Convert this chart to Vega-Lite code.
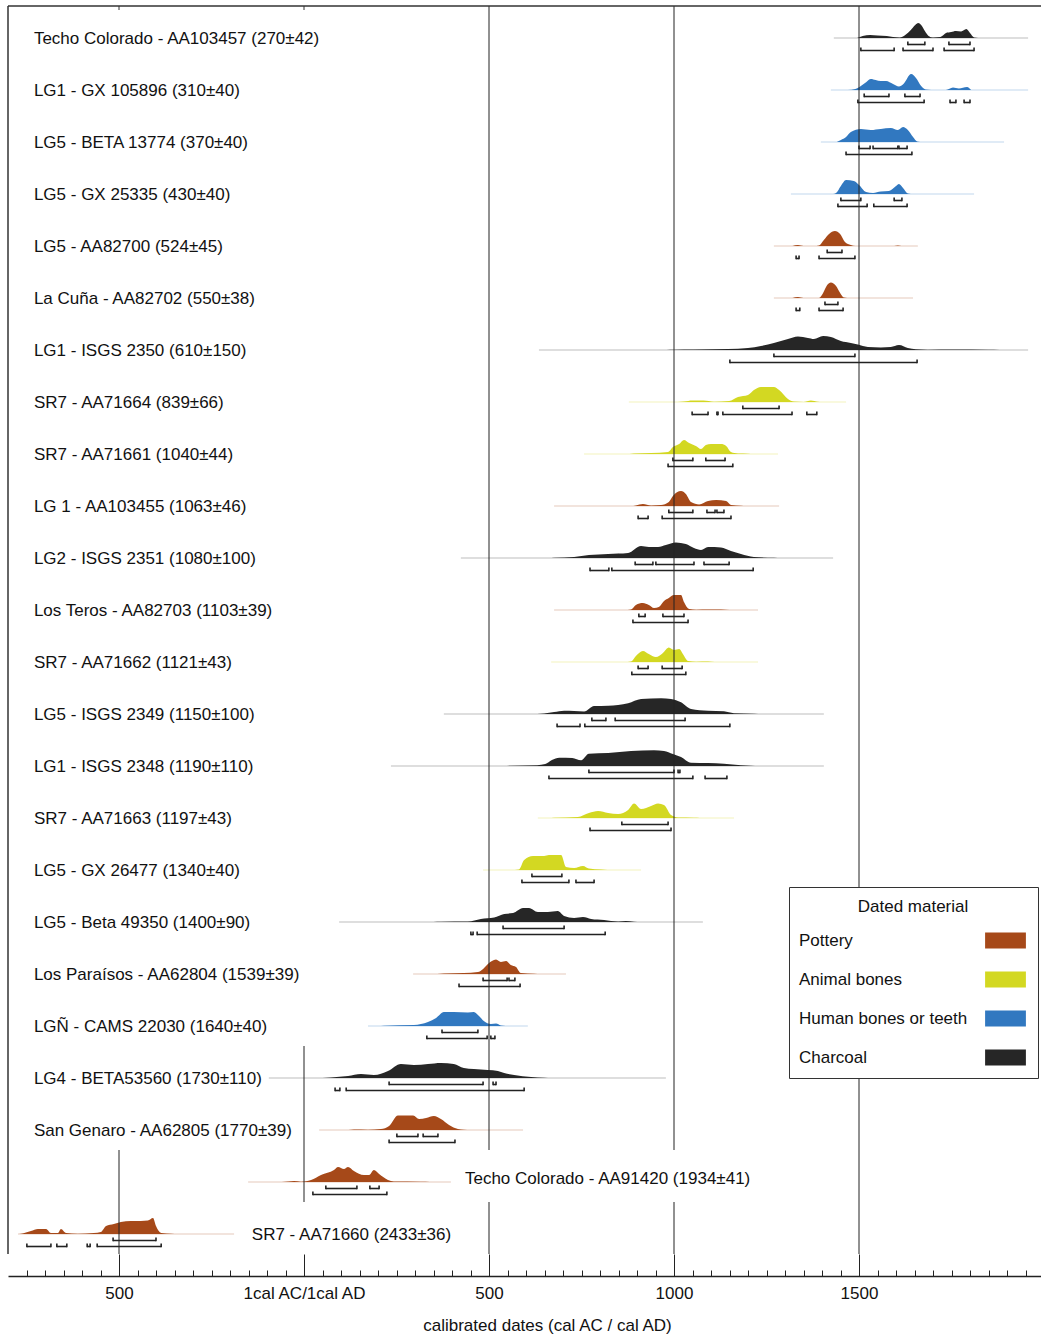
{
  "$schema": "https://vega.github.io/schema/vega-lite/v6.json",
  "padding": {"left": 7, "top": 5, "right": 0, "bottom": 5},
  "datasets": {
    "samples": [
      {"id": 0, "label": "Techo Colorado - AA103457 (270±42)", "m": "Charcoal", "lo": 1432, "hi": 1957},
      {"id": 1, "label": "LG1 - GX 105896 (310±40)", "m": "Human bones or teeth", "lo": 1424, "hi": 1957},
      {"id": 2, "label": "LG5 - BETA 13774 (370±40)", "m": "Human bones or teeth", "lo": 1397, "hi": 1892},
      {"id": 3, "label": "LG5 - GX 25335 (430±40)", "m": "Human bones or teeth", "lo": 1316, "hi": 1811},
      {"id": 4, "label": "LG5 - AA82700 (524±45)", "m": "Pottery", "lo": 1270, "hi": 1659},
      {"id": 5, "label": "La Cuña - AA82702 (550±38)", "m": "Pottery", "lo": 1270, "hi": 1646},
      {"id": 6, "label": "LG1 - ISGS 2350 (610±150)", "m": "Charcoal", "lo": 635, "hi": 1957},
      {"id": 7, "label": "SR7 - AA71664 (839±66)", "m": "Animal bones", "lo": 878, "hi": 1465},
      {"id": 8, "label": "SR7 - AA71661 (1040±44)", "m": "Animal bones", "lo": 757, "hi": 1281},
      {"id": 9, "label": "LG 1 - AA103455 (1063±46)", "m": "Pottery", "lo": 676, "hi": 1284},
      {"id": 10, "label": "LG2 - ISGS 2351 (1080±100)", "m": "Charcoal", "lo": 424, "hi": 1430},
      {"id": 11, "label": "Los Teros - AA82703 (1103±39)", "m": "Pottery", "lo": 676, "hi": 1227},
      {"id": 12, "label": "SR7 - AA71662 (1121±43)", "m": "Animal bones", "lo": 668, "hi": 1227},
      {"id": 13, "label": "LG5 - ISGS 2349 (1150±100)", "m": "Charcoal", "lo": 378, "hi": 1405},
      {"id": 14, "label": "LG1 - ISGS 2348 (1190±110)", "m": "Charcoal", "lo": 235, "hi": 1405},
      {"id": 15, "label": "SR7 - AA71663 (1197±43)", "m": "Animal bones", "lo": 632, "hi": 1162},
      {"id": 16, "label": "LG5 - GX 26477 (1340±40)", "m": "Animal bones", "lo": 484, "hi": 911},
      {"id": 17, "label": "LG5 - Beta 49350 (1400±90)", "m": "Charcoal", "lo": 95, "hi": 1078},
      {"id": 18, "label": "Los Paraísos - AA62804 (1539±39)", "m": "Pottery", "lo": 295, "hi": 708},
      {"id": 19, "label": "LGÑ - CAMS 22030 (1640±40)", "m": "Human bones or teeth", "lo": 173, "hi": 605},
      {"id": 20, "label": "LG4 - BETA53560 (1730±110)", "m": "Charcoal", "lo": -95, "hi": 978},
      {"id": 21, "label": "San Genaro - AA62805 (1770±39)", "m": "Pottery", "lo": 41, "hi": 592},
      {"id": 22, "label": "Techo Colorado - AA91420 (1934±41)", "m": "Pottery", "lo": -151, "hi": 397},
      {"id": 23, "label": "SR7 - AA71660 (2433±36)", "m": "Pottery", "lo": -773, "hi": -189}
    ],
    "all": [
      {"k": "s", "id": 0}, {"k": "s", "id": 1}, {"k": "s", "id": 2}, {"k": "s", "id": 3},
      {"k": "s", "id": 4}, {"k": "s", "id": 5}, {"k": "s", "id": 6}, {"k": "s", "id": 7},
      {"k": "s", "id": 8}, {"k": "s", "id": 9}, {"k": "s", "id": 10}, {"k": "s", "id": 11},
      {"k": "s", "id": 12}, {"k": "s", "id": 13}, {"k": "s", "id": 14}, {"k": "s", "id": 15},
      {"k": "s", "id": 16}, {"k": "s", "id": 17}, {"k": "s", "id": 18}, {"k": "s", "id": 19},
      {"k": "s", "id": 20}, {"k": "s", "id": 21}, {"k": "s", "id": 22}, {"k": "s", "id": 23},

      {"k": "d", "id": 0, "yr": 1495, "p": 0}, {"k": "d", "id": 0, "yr": 1510, "p": 2},
      {"k": "d", "id": 0, "yr": 1530, "p": 3}, {"k": "d", "id": 0, "yr": 1550, "p": 2.5},
      {"k": "d", "id": 0, "yr": 1575, "p": 2}, {"k": "d", "id": 0, "yr": 1592, "p": 1},
      {"k": "d", "id": 0, "yr": 1610, "p": 0.5}, {"k": "d", "id": 0, "yr": 1625, "p": 3},
      {"k": "d", "id": 0, "yr": 1640, "p": 8}, {"k": "d", "id": 0, "yr": 1652, "p": 13},
      {"k": "d", "id": 0, "yr": 1660, "p": 15}, {"k": "d", "id": 0, "yr": 1668, "p": 13},
      {"k": "d", "id": 0, "yr": 1678, "p": 7}, {"k": "d", "id": 0, "yr": 1688, "p": 2},
      {"k": "d", "id": 0, "yr": 1700, "p": 0.5}, {"k": "d", "id": 0, "yr": 1720, "p": 1},
      {"k": "d", "id": 0, "yr": 1735, "p": 5}, {"k": "d", "id": 0, "yr": 1749, "p": 6},
      {"k": "d", "id": 0, "yr": 1762, "p": 7}, {"k": "d", "id": 0, "yr": 1776, "p": 6.5},
      {"k": "d", "id": 0, "yr": 1790, "p": 9}, {"k": "d", "id": 0, "yr": 1800, "p": 5},
      {"k": "d", "id": 0, "yr": 1811, "p": 0.5}, {"k": "d", "id": 0, "yr": 1822, "p": 0},

      {"k": "d", "id": 1, "yr": 1470, "p": 0}, {"k": "d", "id": 1, "yr": 1490, "p": 1},
      {"k": "d", "id": 1, "yr": 1505, "p": 4}, {"k": "d", "id": 1, "yr": 1520, "p": 8},
      {"k": "d", "id": 1, "yr": 1532, "p": 11}, {"k": "d", "id": 1, "yr": 1545, "p": 10},
      {"k": "d", "id": 1, "yr": 1559, "p": 9}, {"k": "d", "id": 1, "yr": 1573, "p": 9},
      {"k": "d", "id": 1, "yr": 1592, "p": 6}, {"k": "d", "id": 1, "yr": 1608, "p": 3.5},
      {"k": "d", "id": 1, "yr": 1620, "p": 6}, {"k": "d", "id": 1, "yr": 1641, "p": 16},
      {"k": "d", "id": 1, "yr": 1654, "p": 12}, {"k": "d", "id": 1, "yr": 1668, "p": 4},
      {"k": "d", "id": 1, "yr": 1680, "p": 0.5}, {"k": "d", "id": 1, "yr": 1695, "p": 0},
      {"k": "d", "id": 1, "yr": 1735, "p": 0}, {"k": "d", "id": 1, "yr": 1754, "p": 2.5},
      {"k": "d", "id": 1, "yr": 1770, "p": 1.5}, {"k": "d", "id": 1, "yr": 1792, "p": 3},
      {"k": "d", "id": 1, "yr": 1803, "p": 0},

      {"k": "d", "id": 2, "yr": 1440, "p": 0}, {"k": "d", "id": 2, "yr": 1451, "p": 2},
      {"k": "d", "id": 2, "yr": 1465, "p": 5}, {"k": "d", "id": 2, "yr": 1478, "p": 10},
      {"k": "d", "id": 2, "yr": 1505, "p": 13}, {"k": "d", "id": 2, "yr": 1532, "p": 12},
      {"k": "d", "id": 2, "yr": 1559, "p": 13}, {"k": "d", "id": 2, "yr": 1586, "p": 14},
      {"k": "d", "id": 2, "yr": 1605, "p": 12}, {"k": "d", "id": 2, "yr": 1619, "p": 15},
      {"k": "d", "id": 2, "yr": 1632, "p": 12}, {"k": "d", "id": 2, "yr": 1646, "p": 5},
      {"k": "d", "id": 2, "yr": 1657, "p": 0.5}, {"k": "d", "id": 2, "yr": 1665, "p": 0},

      {"k": "d", "id": 3, "yr": 1430, "p": 0}, {"k": "d", "id": 3, "yr": 1438, "p": 1},
      {"k": "d", "id": 3, "yr": 1451, "p": 8}, {"k": "d", "id": 3, "yr": 1465, "p": 14},
      {"k": "d", "id": 3, "yr": 1486, "p": 13}, {"k": "d", "id": 3, "yr": 1500, "p": 9},
      {"k": "d", "id": 3, "yr": 1519, "p": 2}, {"k": "d", "id": 3, "yr": 1538, "p": 1},
      {"k": "d", "id": 3, "yr": 1559, "p": 2.5}, {"k": "d", "id": 3, "yr": 1581, "p": 3},
      {"k": "d", "id": 3, "yr": 1600, "p": 8}, {"k": "d", "id": 3, "yr": 1608, "p": 10},
      {"k": "d", "id": 3, "yr": 1619, "p": 6}, {"k": "d", "id": 3, "yr": 1632, "p": 0.5},
      {"k": "d", "id": 3, "yr": 1640, "p": 0},

      {"k": "d", "id": 4, "yr": 1320, "p": 0}, {"k": "d", "id": 4, "yr": 1335, "p": 1},
      {"k": "d", "id": 4, "yr": 1350, "p": 0}, {"k": "d", "id": 4, "yr": 1385, "p": 0},
      {"k": "d", "id": 4, "yr": 1392, "p": 0.5}, {"k": "d", "id": 4, "yr": 1405, "p": 6},
      {"k": "d", "id": 4, "yr": 1419, "p": 12}, {"k": "d", "id": 4, "yr": 1435, "p": 15},
      {"k": "d", "id": 4, "yr": 1449, "p": 12}, {"k": "d", "id": 4, "yr": 1462, "p": 4},
      {"k": "d", "id": 4, "yr": 1478, "p": 1}, {"k": "d", "id": 4, "yr": 1490, "p": 0},
      {"k": "d", "id": 4, "yr": 1595, "p": 0}, {"k": "d", "id": 4, "yr": 1605, "p": 0.5},
      {"k": "d", "id": 4, "yr": 1615, "p": 0},

      {"k": "d", "id": 5, "yr": 1320, "p": 0}, {"k": "d", "id": 5, "yr": 1335, "p": 1},
      {"k": "d", "id": 5, "yr": 1350, "p": 0}, {"k": "d", "id": 5, "yr": 1392, "p": 0},
      {"k": "d", "id": 5, "yr": 1403, "p": 5}, {"k": "d", "id": 5, "yr": 1414, "p": 13},
      {"k": "d", "id": 5, "yr": 1424, "p": 15.5}, {"k": "d", "id": 5, "yr": 1438, "p": 12},
      {"k": "d", "id": 5, "yr": 1449, "p": 5}, {"k": "d", "id": 5, "yr": 1459, "p": 0.5},
      {"k": "d", "id": 5, "yr": 1468, "p": 0},

      {"k": "d", "id": 6, "yr": 980, "p": 0}, {"k": "d", "id": 6, "yr": 1000, "p": 0.3},
      {"k": "d", "id": 6, "yr": 1054, "p": 0.5}, {"k": "d", "id": 6, "yr": 1146, "p": 1},
      {"k": "d", "id": 6, "yr": 1200, "p": 2}, {"k": "d", "id": 6, "yr": 1235, "p": 4},
      {"k": "d", "id": 6, "yr": 1270, "p": 7}, {"k": "d", "id": 6, "yr": 1308, "p": 11},
      {"k": "d", "id": 6, "yr": 1335, "p": 13.5}, {"k": "d", "id": 6, "yr": 1362, "p": 12},
      {"k": "d", "id": 6, "yr": 1378, "p": 11}, {"k": "d", "id": 6, "yr": 1403, "p": 14},
      {"k": "d", "id": 6, "yr": 1424, "p": 13}, {"k": "d", "id": 6, "yr": 1451, "p": 9},
      {"k": "d", "id": 6, "yr": 1478, "p": 7}, {"k": "d", "id": 6, "yr": 1497, "p": 5.5},
      {"k": "d", "id": 6, "yr": 1524, "p": 3}, {"k": "d", "id": 6, "yr": 1559, "p": 2.5},
      {"k": "d", "id": 6, "yr": 1586, "p": 3}, {"k": "d", "id": 6, "yr": 1608, "p": 5},
      {"k": "d", "id": 6, "yr": 1632, "p": 2}, {"k": "d", "id": 6, "yr": 1654, "p": 0.7},
      {"k": "d", "id": 6, "yr": 1686, "p": 0.3}, {"k": "d", "id": 6, "yr": 1757, "p": 0.5},
      {"k": "d", "id": 6, "yr": 1849, "p": 0.2}, {"k": "d", "id": 6, "yr": 1880, "p": 0},

      {"k": "d", "id": 7, "yr": 1010, "p": 0}, {"k": "d", "id": 7, "yr": 1027, "p": 0.5},
      {"k": "d", "id": 7, "yr": 1050, "p": 1.5}, {"k": "d", "id": 7, "yr": 1080, "p": 1.5},
      {"k": "d", "id": 7, "yr": 1108, "p": 0.3}, {"k": "d", "id": 7, "yr": 1149, "p": 1},
      {"k": "d", "id": 7, "yr": 1173, "p": 5}, {"k": "d", "id": 7, "yr": 1200, "p": 7},
      {"k": "d", "id": 7, "yr": 1216, "p": 12}, {"k": "d", "id": 7, "yr": 1235, "p": 15},
      {"k": "d", "id": 7, "yr": 1270, "p": 15}, {"k": "d", "id": 7, "yr": 1284, "p": 12},
      {"k": "d", "id": 7, "yr": 1308, "p": 3}, {"k": "d", "id": 7, "yr": 1324, "p": 0.5},
      {"k": "d", "id": 7, "yr": 1350, "p": 0}, {"k": "d", "id": 7, "yr": 1370, "p": 1.5},
      {"k": "d", "id": 7, "yr": 1389, "p": 0.3}, {"k": "d", "id": 7, "yr": 1400, "p": 0},

      {"k": "d", "id": 8, "yr": 880, "p": 0}, {"k": "d", "id": 8, "yr": 892, "p": 0.5},
      {"k": "d", "id": 8, "yr": 938, "p": 1}, {"k": "d", "id": 8, "yr": 984, "p": 2},
      {"k": "d", "id": 8, "yr": 997, "p": 7}, {"k": "d", "id": 8, "yr": 1014, "p": 10},
      {"k": "d", "id": 8, "yr": 1027, "p": 14}, {"k": "d", "id": 8, "yr": 1041, "p": 11},
      {"k": "d", "id": 8, "yr": 1059, "p": 8}, {"k": "d", "id": 8, "yr": 1073, "p": 5},
      {"k": "d", "id": 8, "yr": 1086, "p": 9}, {"k": "d", "id": 8, "yr": 1100, "p": 10},
      {"k": "d", "id": 8, "yr": 1127, "p": 10}, {"k": "d", "id": 8, "yr": 1141, "p": 8},
      {"k": "d", "id": 8, "yr": 1154, "p": 2}, {"k": "d", "id": 8, "yr": 1173, "p": 0.5},
      {"k": "d", "id": 8, "yr": 1200, "p": 0.3}, {"k": "d", "id": 8, "yr": 1215, "p": 0},

      {"k": "d", "id": 9, "yr": 890, "p": 0}, {"k": "d", "id": 9, "yr": 897, "p": 0.5},
      {"k": "d", "id": 9, "yr": 916, "p": 2}, {"k": "d", "id": 9, "yr": 938, "p": 0.5},
      {"k": "d", "id": 9, "yr": 965, "p": 1}, {"k": "d", "id": 9, "yr": 986, "p": 4},
      {"k": "d", "id": 9, "yr": 997, "p": 10}, {"k": "d", "id": 9, "yr": 1019, "p": 15},
      {"k": "d", "id": 9, "yr": 1032, "p": 12}, {"k": "d", "id": 9, "yr": 1046, "p": 4},
      {"k": "d", "id": 9, "yr": 1068, "p": 1.5}, {"k": "d", "id": 9, "yr": 1092, "p": 5},
      {"k": "d", "id": 9, "yr": 1114, "p": 6}, {"k": "d", "id": 9, "yr": 1141, "p": 5},
      {"k": "d", "id": 9, "yr": 1154, "p": 1}, {"k": "d", "id": 9, "yr": 1181, "p": 0.3},
      {"k": "d", "id": 9, "yr": 1195, "p": 0},

      {"k": "d", "id": 10, "yr": 660, "p": 0}, {"k": "d", "id": 10, "yr": 676, "p": 0.3},
      {"k": "d", "id": 10, "yr": 730, "p": 1}, {"k": "d", "id": 10, "yr": 770, "p": 3},
      {"k": "d", "id": 10, "yr": 822, "p": 4}, {"k": "d", "id": 10, "yr": 876, "p": 5},
      {"k": "d", "id": 10, "yr": 911, "p": 12}, {"k": "d", "id": 10, "yr": 932, "p": 11},
      {"k": "d", "id": 10, "yr": 957, "p": 11}, {"k": "d", "id": 10, "yr": 978, "p": 13},
      {"k": "d", "id": 10, "yr": 1005, "p": 15.5}, {"k": "d", "id": 10, "yr": 1032, "p": 14},
      {"k": "d", "id": 10, "yr": 1054, "p": 10}, {"k": "d", "id": 10, "yr": 1073, "p": 8},
      {"k": "d", "id": 10, "yr": 1092, "p": 11}, {"k": "d", "id": 10, "yr": 1127, "p": 10.5},
      {"k": "d", "id": 10, "yr": 1154, "p": 7}, {"k": "d", "id": 10, "yr": 1181, "p": 4},
      {"k": "d", "id": 10, "yr": 1216, "p": 1}, {"k": "d", "id": 10, "yr": 1270, "p": 0.3},
      {"k": "d", "id": 10, "yr": 1290, "p": 0},

      {"k": "d", "id": 11, "yr": 875, "p": 0}, {"k": "d", "id": 11, "yr": 884, "p": 0.5},
      {"k": "d", "id": 11, "yr": 897, "p": 5}, {"k": "d", "id": 11, "yr": 916, "p": 7},
      {"k": "d", "id": 11, "yr": 932, "p": 5}, {"k": "d", "id": 11, "yr": 946, "p": 2},
      {"k": "d", "id": 11, "yr": 959, "p": 3}, {"k": "d", "id": 11, "yr": 973, "p": 9},
      {"k": "d", "id": 11, "yr": 986, "p": 12}, {"k": "d", "id": 11, "yr": 1000, "p": 15},
      {"k": "d", "id": 11, "yr": 1019, "p": 15}, {"k": "d", "id": 11, "yr": 1027, "p": 8},
      {"k": "d", "id": 11, "yr": 1041, "p": 1}, {"k": "d", "id": 11, "yr": 1060, "p": 0.3},
      {"k": "d", "id": 11, "yr": 1092, "p": 0.5}, {"k": "d", "id": 11, "yr": 1127, "p": 0.5},
      {"k": "d", "id": 11, "yr": 1150, "p": 0},

      {"k": "d", "id": 12, "yr": 875, "p": 0}, {"k": "d", "id": 12, "yr": 884, "p": 0.5},
      {"k": "d", "id": 12, "yr": 897, "p": 6}, {"k": "d", "id": 12, "yr": 916, "p": 11},
      {"k": "d", "id": 12, "yr": 932, "p": 8}, {"k": "d", "id": 12, "yr": 951, "p": 5},
      {"k": "d", "id": 12, "yr": 970, "p": 9}, {"k": "d", "id": 12, "yr": 986, "p": 14.5},
      {"k": "d", "id": 12, "yr": 1000, "p": 12}, {"k": "d", "id": 12, "yr": 1014, "p": 13},
      {"k": "d", "id": 12, "yr": 1024, "p": 8}, {"k": "d", "id": 12, "yr": 1038, "p": 1},
      {"k": "d", "id": 12, "yr": 1060, "p": 0.3}, {"k": "d", "id": 12, "yr": 1092, "p": 0.5},
      {"k": "d", "id": 12, "yr": 1110, "p": 0},

      {"k": "d", "id": 13, "yr": 630, "p": 0}, {"k": "d", "id": 13, "yr": 649, "p": 0.5},
      {"k": "d", "id": 13, "yr": 676, "p": 2}, {"k": "d", "id": 13, "yr": 703, "p": 3.3},
      {"k": "d", "id": 13, "yr": 730, "p": 3}, {"k": "d", "id": 13, "yr": 757, "p": 2.5},
      {"k": "d", "id": 13, "yr": 784, "p": 8}, {"k": "d", "id": 13, "yr": 822, "p": 8.3},
      {"k": "d", "id": 13, "yr": 876, "p": 10.7}, {"k": "d", "id": 13, "yr": 911, "p": 15},
      {"k": "d", "id": 13, "yr": 965, "p": 15.7}, {"k": "d", "id": 13, "yr": 992, "p": 15},
      {"k": "d", "id": 13, "yr": 1019, "p": 11.7}, {"k": "d", "id": 13, "yr": 1046, "p": 5},
      {"k": "d", "id": 13, "yr": 1092, "p": 3.3}, {"k": "d", "id": 13, "yr": 1135, "p": 2.7},
      {"k": "d", "id": 13, "yr": 1162, "p": 0.8}, {"k": "d", "id": 13, "yr": 1216, "p": 0.3},
      {"k": "d", "id": 13, "yr": 1240, "p": 0},

      {"k": "d", "id": 14, "yr": 540, "p": 0}, {"k": "d", "id": 14, "yr": 559, "p": 0.3},
      {"k": "d", "id": 14, "yr": 630, "p": 0.8}, {"k": "d", "id": 14, "yr": 652, "p": 2},
      {"k": "d", "id": 14, "yr": 670, "p": 6}, {"k": "d", "id": 14, "yr": 690, "p": 8.3},
      {"k": "d", "id": 14, "yr": 725, "p": 8}, {"k": "d", "id": 14, "yr": 749, "p": 5.7},
      {"k": "d", "id": 14, "yr": 770, "p": 12.3}, {"k": "d", "id": 14, "yr": 822, "p": 13},
      {"k": "d", "id": 14, "yr": 884, "p": 15}, {"k": "d", "id": 14, "yr": 946, "p": 15.7},
      {"k": "d", "id": 14, "yr": 973, "p": 15}, {"k": "d", "id": 14, "yr": 997, "p": 12},
      {"k": "d", "id": 14, "yr": 1019, "p": 9}, {"k": "d", "id": 14, "yr": 1046, "p": 3.3},
      {"k": "d", "id": 14, "yr": 1092, "p": 3}, {"k": "d", "id": 14, "yr": 1135, "p": 2.3},
      {"k": "d", "id": 14, "yr": 1181, "p": 0.7}, {"k": "d", "id": 14, "yr": 1208, "p": 0.3},
      {"k": "d", "id": 14, "yr": 1230, "p": 0},

      {"k": "d", "id": 15, "yr": 660, "p": 0}, {"k": "d", "id": 15, "yr": 676, "p": 0.3},
      {"k": "d", "id": 15, "yr": 740, "p": 1}, {"k": "d", "id": 15, "yr": 770, "p": 5},
      {"k": "d", "id": 15, "yr": 795, "p": 7}, {"k": "d", "id": 15, "yr": 822, "p": 5},
      {"k": "d", "id": 15, "yr": 849, "p": 4}, {"k": "d", "id": 15, "yr": 876, "p": 8},
      {"k": "d", "id": 15, "yr": 892, "p": 14.5}, {"k": "d", "id": 15, "yr": 911, "p": 9},
      {"k": "d", "id": 15, "yr": 938, "p": 12}, {"k": "d", "id": 15, "yr": 957, "p": 14.5},
      {"k": "d", "id": 15, "yr": 973, "p": 13}, {"k": "d", "id": 15, "yr": 992, "p": 3},
      {"k": "d", "id": 15, "yr": 1011, "p": 0.5}, {"k": "d", "id": 15, "yr": 1054, "p": 0.3},
      {"k": "d", "id": 15, "yr": 1070, "p": 0},

      {"k": "d", "id": 16, "yr": 570, "p": 0}, {"k": "d", "id": 16, "yr": 581, "p": 0.5},
      {"k": "d", "id": 16, "yr": 595, "p": 10}, {"k": "d", "id": 16, "yr": 619, "p": 14},
      {"k": "d", "id": 16, "yr": 649, "p": 14}, {"k": "d", "id": 16, "yr": 662, "p": 15},
      {"k": "d", "id": 16, "yr": 695, "p": 15}, {"k": "d", "id": 16, "yr": 708, "p": 3},
      {"k": "d", "id": 16, "yr": 730, "p": 2}, {"k": "d", "id": 16, "yr": 754, "p": 4},
      {"k": "d", "id": 16, "yr": 770, "p": 1.5}, {"k": "d", "id": 16, "yr": 803, "p": 0.5},
      {"k": "d", "id": 16, "yr": 820, "p": 0},

      {"k": "d", "id": 17, "yr": 350, "p": 0}, {"k": "d", "id": 17, "yr": 370, "p": 0.3},
      {"k": "d", "id": 17, "yr": 443, "p": 0.5}, {"k": "d", "id": 17, "yr": 478, "p": 3},
      {"k": "d", "id": 17, "yr": 514, "p": 4.5}, {"k": "d", "id": 17, "yr": 541, "p": 8},
      {"k": "d", "id": 17, "yr": 565, "p": 9}, {"k": "d", "id": 17, "yr": 592, "p": 14},
      {"k": "d", "id": 17, "yr": 608, "p": 14}, {"k": "d", "id": 17, "yr": 632, "p": 10},
      {"k": "d", "id": 17, "yr": 659, "p": 10}, {"k": "d", "id": 17, "yr": 686, "p": 11},
      {"k": "d", "id": 17, "yr": 703, "p": 6}, {"k": "d", "id": 17, "yr": 730, "p": 4},
      {"k": "d", "id": 17, "yr": 754, "p": 5}, {"k": "d", "id": 17, "yr": 776, "p": 3},
      {"k": "d", "id": 17, "yr": 811, "p": 2}, {"k": "d", "id": 17, "yr": 849, "p": 0.5},
      {"k": "d", "id": 17, "yr": 870, "p": 1}, {"k": "d", "id": 17, "yr": 892, "p": 0.3},
      {"k": "d", "id": 17, "yr": 910, "p": 0},

      {"k": "d", "id": 18, "yr": 360, "p": 0}, {"k": "d", "id": 18, "yr": 378, "p": 0.5},
      {"k": "d", "id": 18, "yr": 432, "p": 1}, {"k": "d", "id": 18, "yr": 470, "p": 2},
      {"k": "d", "id": 18, "yr": 484, "p": 5}, {"k": "d", "id": 18, "yr": 497, "p": 10},
      {"k": "d", "id": 18, "yr": 519, "p": 14.5}, {"k": "d", "id": 18, "yr": 532, "p": 12},
      {"k": "d", "id": 18, "yr": 546, "p": 13}, {"k": "d", "id": 18, "yr": 559, "p": 9},
      {"k": "d", "id": 18, "yr": 573, "p": 7}, {"k": "d", "id": 18, "yr": 586, "p": 1},
      {"k": "d", "id": 18, "yr": 622, "p": 0.3}, {"k": "d", "id": 18, "yr": 640, "p": 0},

      {"k": "d", "id": 19, "yr": 200, "p": 0}, {"k": "d", "id": 19, "yr": 216, "p": 0.3},
      {"k": "d", "id": 19, "yr": 297, "p": 1}, {"k": "d", "id": 19, "yr": 335, "p": 4},
      {"k": "d", "id": 19, "yr": 357, "p": 8}, {"k": "d", "id": 19, "yr": 378, "p": 14},
      {"k": "d", "id": 19, "yr": 405, "p": 14}, {"k": "d", "id": 19, "yr": 443, "p": 13.5},
      {"k": "d", "id": 19, "yr": 459, "p": 14}, {"k": "d", "id": 19, "yr": 473, "p": 10},
      {"k": "d", "id": 19, "yr": 486, "p": 5}, {"k": "d", "id": 19, "yr": 505, "p": 2},
      {"k": "d", "id": 19, "yr": 519, "p": 2.5}, {"k": "d", "id": 19, "yr": 532, "p": 0.5},
      {"k": "d", "id": 19, "yr": 545, "p": 0},

      {"k": "d", "id": 20, "yr": 50, "p": 0}, {"k": "d", "id": 20, "yr": 73, "p": 0.5},
      {"k": "d", "id": 20, "yr": 119, "p": 2}, {"k": "d", "id": 20, "yr": 154, "p": 4},
      {"k": "d", "id": 20, "yr": 189, "p": 3}, {"k": "d", "id": 20, "yr": 227, "p": 7},
      {"k": "d", "id": 20, "yr": 262, "p": 14}, {"k": "d", "id": 20, "yr": 297, "p": 13},
      {"k": "d", "id": 20, "yr": 335, "p": 14}, {"k": "d", "id": 20, "yr": 370, "p": 15},
      {"k": "d", "id": 20, "yr": 405, "p": 14}, {"k": "d", "id": 20, "yr": 432, "p": 10},
      {"k": "d", "id": 20, "yr": 459, "p": 9}, {"k": "d", "id": 20, "yr": 497, "p": 8},
      {"k": "d", "id": 20, "yr": 524, "p": 7}, {"k": "d", "id": 20, "yr": 541, "p": 5},
      {"k": "d", "id": 20, "yr": 568, "p": 3}, {"k": "d", "id": 20, "yr": 614, "p": 1},
      {"k": "d", "id": 20, "yr": 649, "p": 0.3}, {"k": "d", "id": 20, "yr": 670, "p": 0},

      {"k": "d", "id": 21, "yr": 120, "p": 0}, {"k": "d", "id": 21, "yr": 135, "p": 0.5},
      {"k": "d", "id": 21, "yr": 173, "p": 0.3}, {"k": "d", "id": 21, "yr": 208, "p": 1},
      {"k": "d", "id": 21, "yr": 230, "p": 4}, {"k": "d", "id": 21, "yr": 254, "p": 14.5},
      {"k": "d", "id": 21, "yr": 295, "p": 14.5}, {"k": "d", "id": 21, "yr": 311, "p": 11},
      {"k": "d", "id": 21, "yr": 330, "p": 12}, {"k": "d", "id": 21, "yr": 351, "p": 14},
      {"k": "d", "id": 21, "yr": 370, "p": 11}, {"k": "d", "id": 21, "yr": 392, "p": 5},
      {"k": "d", "id": 21, "yr": 416, "p": 1}, {"k": "d", "id": 21, "yr": 432, "p": 0.3},
      {"k": "d", "id": 21, "yr": 450, "p": 0},

      {"k": "d", "id": 22, "yr": -60, "p": 0}, {"k": "d", "id": 22, "yr": -43, "p": 0.5},
      {"k": "d", "id": 22, "yr": -27, "p": 1}, {"k": "d", "id": 22, "yr": -8, "p": 0.3},
      {"k": "d", "id": 22, "yr": 19, "p": 2}, {"k": "d", "id": 22, "yr": 46, "p": 7},
      {"k": "d", "id": 22, "yr": 81, "p": 12}, {"k": "d", "id": 22, "yr": 92, "p": 15},
      {"k": "d", "id": 22, "yr": 108, "p": 13}, {"k": "d", "id": 22, "yr": 119, "p": 15},
      {"k": "d", "id": 22, "yr": 135, "p": 11}, {"k": "d", "id": 22, "yr": 162, "p": 7},
      {"k": "d", "id": 22, "yr": 176, "p": 7}, {"k": "d", "id": 22, "yr": 189, "p": 12},
      {"k": "d", "id": 22, "yr": 203, "p": 8}, {"k": "d", "id": 22, "yr": 227, "p": 2},
      {"k": "d", "id": 22, "yr": 243, "p": 0.5}, {"k": "d", "id": 22, "yr": 316, "p": 0.3},
      {"k": "d", "id": 22, "yr": 340, "p": 0},

      {"k": "d", "id": 23, "yr": -775, "p": 0}, {"k": "d", "id": 23, "yr": -765, "p": 0.3},
      {"k": "d", "id": 23, "yr": -738, "p": 3}, {"k": "d", "id": 23, "yr": -719, "p": 5},
      {"k": "d", "id": 23, "yr": -697, "p": 5}, {"k": "d", "id": 23, "yr": -684, "p": 1},
      {"k": "d", "id": 23, "yr": -665, "p": 1}, {"k": "d", "id": 23, "yr": -657, "p": 5},
      {"k": "d", "id": 23, "yr": -643, "p": 1}, {"k": "d", "id": 23, "yr": -611, "p": 0.3},
      {"k": "d", "id": 23, "yr": -568, "p": 1}, {"k": "d", "id": 23, "yr": -549, "p": 2},
      {"k": "d", "id": 23, "yr": -535, "p": 8}, {"k": "d", "id": 23, "yr": -514, "p": 10},
      {"k": "d", "id": 23, "yr": -495, "p": 12}, {"k": "d", "id": 23, "yr": -468, "p": 13},
      {"k": "d", "id": 23, "yr": -441, "p": 13}, {"k": "d", "id": 23, "yr": -422, "p": 13.5},
      {"k": "d", "id": 23, "yr": -408, "p": 16}, {"k": "d", "id": 23, "yr": -400, "p": 8},
      {"k": "d", "id": 23, "yr": -386, "p": 1}, {"k": "d", "id": 23, "yr": -359, "p": 0.3},
      {"k": "d", "id": 23, "yr": -340, "p": 0},

      {"k": "b", "id": 0, "lvl": 68, "a": 1632, "b": 1678}, {"k": "b", "id": 0, "lvl": 68, "a": 1743, "b": 1800},
      {"k": "b", "id": 0, "lvl": 95, "a": 1505, "b": 1595}, {"k": "b", "id": 0, "lvl": 95, "a": 1619, "b": 1700},
      {"k": "b", "id": 0, "lvl": 95, "a": 1730, "b": 1811},
      {"k": "b", "id": 1, "lvl": 68, "a": 1514, "b": 1581}, {"k": "b", "id": 1, "lvl": 68, "a": 1624, "b": 1665},
      {"k": "b", "id": 1, "lvl": 95, "a": 1497, "b": 1676}, {"k": "b", "id": 1, "lvl": 95, "a": 1746, "b": 1762},
      {"k": "b", "id": 1, "lvl": 95, "a": 1784, "b": 1800},
      {"k": "b", "id": 2, "lvl": 68, "a": 1500, "b": 1530}, {"k": "b", "id": 2, "lvl": 68, "a": 1538, "b": 1605},
      {"k": "b", "id": 2, "lvl": 68, "a": 1608, "b": 1630}, {"k": "b", "id": 2, "lvl": 95, "a": 1465, "b": 1643},
      {"k": "b", "id": 3, "lvl": 68, "a": 1451, "b": 1505}, {"k": "b", "id": 3, "lvl": 68, "a": 1595, "b": 1616},
      {"k": "b", "id": 3, "lvl": 95, "a": 1443, "b": 1522}, {"k": "b", "id": 3, "lvl": 95, "a": 1540, "b": 1630},
      {"k": "b", "id": 4, "lvl": 68, "a": 1414, "b": 1454},
      {"k": "b", "id": 4, "lvl": 95, "a": 1330, "b": 1338}, {"k": "b", "id": 4, "lvl": 95, "a": 1392, "b": 1489},
      {"k": "b", "id": 5, "lvl": 68, "a": 1408, "b": 1443},
      {"k": "b", "id": 5, "lvl": 95, "a": 1330, "b": 1340}, {"k": "b", "id": 5, "lvl": 95, "a": 1392, "b": 1457},
      {"k": "b", "id": 6, "lvl": 68, "a": 1270, "b": 1489}, {"k": "b", "id": 6, "lvl": 95, "a": 1151, "b": 1657},
      {"k": "b", "id": 7, "lvl": 68, "a": 1186, "b": 1284},
      {"k": "b", "id": 7, "lvl": 95, "a": 1049, "b": 1092}, {"k": "b", "id": 7, "lvl": 95, "a": 1116, "b": 1119},
      {"k": "b", "id": 7, "lvl": 95, "a": 1132, "b": 1319}, {"k": "b", "id": 7, "lvl": 95, "a": 1359, "b": 1386},
      {"k": "b", "id": 8, "lvl": 68, "a": 997, "b": 1051}, {"k": "b", "id": 8, "lvl": 68, "a": 1086, "b": 1138},
      {"k": "b", "id": 8, "lvl": 95, "a": 984, "b": 1159},
      {"k": "b", "id": 9, "lvl": 68, "a": 986, "b": 1051}, {"k": "b", "id": 9, "lvl": 68, "a": 1089, "b": 1111},
      {"k": "b", "id": 9, "lvl": 68, "a": 1116, "b": 1135},
      {"k": "b", "id": 9, "lvl": 95, "a": 903, "b": 930}, {"k": "b", "id": 9, "lvl": 95, "a": 968, "b": 1154},
      {"k": "b", "id": 10, "lvl": 68, "a": 895, "b": 943}, {"k": "b", "id": 10, "lvl": 68, "a": 951, "b": 1054},
      {"k": "b", "id": 10, "lvl": 68, "a": 1081, "b": 1149},
      {"k": "b", "id": 10, "lvl": 95, "a": 773, "b": 824}, {"k": "b", "id": 10, "lvl": 95, "a": 832, "b": 1214},
      {"k": "b", "id": 11, "lvl": 68, "a": 905, "b": 922}, {"k": "b", "id": 11, "lvl": 68, "a": 970, "b": 1027},
      {"k": "b", "id": 11, "lvl": 95, "a": 889, "b": 1038},
      {"k": "b", "id": 12, "lvl": 68, "a": 903, "b": 930}, {"k": "b", "id": 12, "lvl": 68, "a": 968, "b": 1022},
      {"k": "b", "id": 12, "lvl": 95, "a": 886, "b": 1032},
      {"k": "b", "id": 13, "lvl": 68, "a": 778, "b": 816}, {"k": "b", "id": 13, "lvl": 68, "a": 841, "b": 1030},
      {"k": "b", "id": 13, "lvl": 95, "a": 684, "b": 746}, {"k": "b", "id": 13, "lvl": 95, "a": 759, "b": 1151},
      {"k": "b", "id": 14, "lvl": 68, "a": 770, "b": 1000}, {"k": "b", "id": 14, "lvl": 68, "a": 1011, "b": 1016},
      {"k": "b", "id": 14, "lvl": 95, "a": 662, "b": 1051}, {"k": "b", "id": 14, "lvl": 95, "a": 1084, "b": 1143},
      {"k": "b", "id": 15, "lvl": 68, "a": 859, "b": 984}, {"k": "b", "id": 15, "lvl": 95, "a": 773, "b": 992},
      {"k": "b", "id": 16, "lvl": 68, "a": 616, "b": 697},
      {"k": "b", "id": 16, "lvl": 95, "a": 589, "b": 716}, {"k": "b", "id": 16, "lvl": 95, "a": 735, "b": 784},
      {"k": "b", "id": 17, "lvl": 68, "a": 538, "b": 703},
      {"k": "b", "id": 17, "lvl": 95, "a": 451, "b": 457}, {"k": "b", "id": 17, "lvl": 95, "a": 468, "b": 814},
      {"k": "b", "id": 18, "lvl": 68, "a": 484, "b": 549}, {"k": "b", "id": 18, "lvl": 68, "a": 554, "b": 570},
      {"k": "b", "id": 18, "lvl": 95, "a": 419, "b": 584},
      {"k": "b", "id": 19, "lvl": 68, "a": 373, "b": 470},
      {"k": "b", "id": 19, "lvl": 95, "a": 332, "b": 495}, {"k": "b", "id": 19, "lvl": 95, "a": 505, "b": 516},
      {"k": "b", "id": 20, "lvl": 68, "a": 230, "b": 484}, {"k": "b", "id": 20, "lvl": 68, "a": 511, "b": 519},
      {"k": "b", "id": 20, "lvl": 95, "a": 84, "b": 97}, {"k": "b", "id": 20, "lvl": 95, "a": 114, "b": 595},
      {"k": "b", "id": 21, "lvl": 68, "a": 251, "b": 308}, {"k": "b", "id": 21, "lvl": 68, "a": 322, "b": 362},
      {"k": "b", "id": 21, "lvl": 95, "a": 230, "b": 408},
      {"k": "b", "id": 22, "lvl": 68, "a": 59, "b": 143}, {"k": "b", "id": 22, "lvl": 68, "a": 178, "b": 203},
      {"k": "b", "id": 22, "lvl": 95, "a": 24, "b": 224},
      {"k": "b", "id": 23, "lvl": 68, "a": -516, "b": -400},
      {"k": "b", "id": 23, "lvl": 95, "a": -749, "b": -684}, {"k": "b", "id": 23, "lvl": 95, "a": -668, "b": -641},
      {"k": "b", "id": 23, "lvl": 95, "a": -586, "b": -578}, {"k": "b", "id": 23, "lvl": 95, "a": -559, "b": -386}
    ]
  },
  "data": {"name": "all"},
  "transform": [
    {"lookup": "id", "from": {"data": {"name": "samples"}, "key": "id", "fields": ["label", "m", "lo", "hi"]}}
  ],
  "facet": {
    "row": {"field": "label", "type": "nominal", "header": null, "sort": {"field": "id", "op": "min"}}
  },
  "spacing": {"row": 0},
  "bounds": "flush",
  "spec": {
    "width": 1036,
    "height": 52,
    "layer": [
      {
        "transform": [{"filter": "datum.k == 'd'"}],
        "mark": {"type": "area", "interpolate": "monotone"},
        "encoding": {
          "x": {
            "field": "yr", "type": "quantitative",
            "scale": {"domain": [-800, 2000], "nice": false, "zero": false},
            "axis": {
              "values": [-750, -700, -650, -600, -550, -500, -450, -400, -350, -300, -250, -200, -150, -100, -50, 0, 50, 100, 150, 200, 250, 300, 350, 400, 450, 500, 550, 600, 650, 700, 750, 800, 850, 900, 950, 1000, 1050, 1100, 1150, 1200, 1250, 1300, 1350, 1400, 1450, 1500, 1550, 1600, 1650, 1700, 1750, 1800, 1850, 1900, 1950],
              "tickCount": 100,
              "labelExpr": "datum.value % 500 !== 0 ? '' : (datum.value === 0 ? '1cal AC/1cal AD' : format(abs(datum.value), 'd'))",
              "tickSize": {"condition": {"test": "datum.value % 500 === 0", "value": -22}, "value": -6},
              "offset": 22,
              "labelPadding": 31,
              "title": "calibrated dates (cal AC / cal AD)",
              "titleX": 539,
              "titlePadding": 0
            }
          },
          "y": {"field": "p", "type": "quantitative", "title": null, "scale": {"domain": [-20, 32], "nice": false, "zero": false}},
          "y2": {"datum": 0},
          "color": {
            "field": "m", "type": "nominal",
            "scale": {
              "domain": ["Pottery", "Animal bones", "Human bones or teeth", "Charcoal"],
              "range": ["#A64919", "#D3D822", "#3178C0", "#262626"]
            },
            "legend": {"title": "Dated material"}
          }
        }
      },
      {
        "transform": [{"filter": "datum.k == 's'"}],
        "mark": {"type": "rule", "strokeWidth": 1, "opacity": 0.3},
        "encoding": {
          "x": {"field": "lo", "type": "quantitative"},
          "x2": {"field": "hi"},
          "y": {"datum": 0},
          "color": {"field": "m", "type": "nominal"}
        }
      },
      {
        "transform": [{"filter": "datum.k == 's' && datum.id >= 22"}],
        "mark": {"type": "rule", "color": "#222", "strokeWidth": 1},
        "encoding": {"x": {"datum": -500}}
      },
      {
        "transform": [{"filter": "datum.k == 's' && datum.id >= 20 && datum.id <= 22"}],
        "mark": {"type": "rule", "color": "#222", "strokeWidth": 1},
        "encoding": {"x": {"datum": 0}}
      },
      {
        "transform": [{"filter": "datum.k == 's' && datum.id != 22"}],
        "mark": {"type": "rule", "color": "#222", "strokeWidth": 1},
        "encoding": {"x": {"datum": 500}}
      },
      {
        "transform": [{"filter": "datum.k == 's' && datum.id != 22"}],
        "mark": {"type": "rule", "color": "#222", "strokeWidth": 1},
        "encoding": {"x": {"datum": 1000}}
      },
      {
        "transform": [{"filter": "datum.k == 's'"}],
        "mark": {"type": "rule", "color": "#222", "strokeWidth": 1},
        "encoding": {"x": {"datum": 1500}}
      },
      {
        "transform": [{"filter": "datum.k == 's'"}],
        "mark": {"type": "rule", "color": "#333", "strokeWidth": 1.5},
        "encoding": {"x": {"datum": -800}}
      },
      {
        "transform": [{"filter": "datum.k == 's' && datum.id == 0"}],
        "mark": {"type": "rule", "color": "#333", "strokeWidth": 1.5},
        "encoding": {"y": {"datum": 32}}
      },
      {
        "transform": [{"filter": "datum.k == 's' && datum.id == 0"}],
        "mark": {"type": "rule", "color": "#333", "strokeWidth": 1},
        "encoding": {"x": {"datum": -500}, "y": {"datum": 32}, "y2": {"datum": 28}}
      },
      {
        "transform": [{"filter": "datum.k == 's' && datum.id == 0"}],
        "mark": {"type": "rule", "color": "#333", "strokeWidth": 1},
        "encoding": {"x": {"datum": 0}, "y": {"datum": 32}, "y2": {"datum": 28}}
      },
      {
        "transform": [{"filter": "datum.k == 'b' && datum.lvl == 68"}],
        "mark": {"type": "rule", "color": "#222", "strokeWidth": 1.6},
        "encoding": {"x": {"field": "a", "type": "quantitative"}, "x2": {"field": "b"}, "y": {"datum": -6.5}}
      },
      {
        "transform": [{"filter": "datum.k == 'b' && datum.lvl == 68"}],
        "mark": {"type": "rule", "color": "#222", "strokeWidth": 1.6},
        "encoding": {"x": {"field": "a", "type": "quantitative"}, "y": {"datum": -7.2}, "y2": {"datum": -3.5}}
      },
      {
        "transform": [{"filter": "datum.k == 'b' && datum.lvl == 68"}],
        "mark": {"type": "rule", "color": "#222", "strokeWidth": 1.6},
        "encoding": {"x": {"field": "b", "type": "quantitative"}, "y": {"datum": -7.2}, "y2": {"datum": -3.5}}
      },
      {
        "transform": [{"filter": "datum.k == 'b' && datum.lvl == 95"}],
        "mark": {"type": "rule", "color": "#222", "strokeWidth": 1.6},
        "encoding": {"x": {"field": "a", "type": "quantitative"}, "x2": {"field": "b"}, "y": {"datum": -12.5}}
      },
      {
        "transform": [{"filter": "datum.k == 'b' && datum.lvl == 95"}],
        "mark": {"type": "rule", "color": "#222", "strokeWidth": 1.6},
        "encoding": {"x": {"field": "a", "type": "quantitative"}, "y": {"datum": -13.2}, "y2": {"datum": -9.5}}
      },
      {
        "transform": [{"filter": "datum.k == 'b' && datum.lvl == 95"}],
        "mark": {"type": "rule", "color": "#222", "strokeWidth": 1.6},
        "encoding": {"x": {"field": "b", "type": "quantitative"}, "y": {"datum": -13.2}, "y2": {"datum": -9.5}}
      },
      {
        "transform": [{"filter": "datum.k == 's' && datum.id < 22"}],
        "mark": {"type": "text", "align": "left", "baseline": "middle", "fontSize": 17, "font": "Liberation Sans", "color": "#111"},
        "encoding": {"x": {"datum": -730}, "y": {"datum": -1}, "text": {"field": "label"}}
      },
      {
        "transform": [{"filter": "datum.k == 's' && datum.id == 22"}],
        "mark": {"type": "text", "align": "left", "baseline": "middle", "fontSize": 17, "font": "Liberation Sans", "color": "#111"},
        "encoding": {"x": {"datum": 435}, "y": {"datum": 3}, "text": {"field": "label"}}
      },
      {
        "transform": [{"filter": "datum.k == 's' && datum.id == 23"}],
        "mark": {"type": "text", "align": "left", "baseline": "middle", "fontSize": 17, "font": "Liberation Sans", "color": "#111"},
        "encoding": {"x": {"datum": -141}, "y": {"datum": -1}, "text": {"field": "label"}}
      }
    ]
  },
  "config": {
    "view": {"stroke": null},
    "font": "Liberation Sans",
    "axis": {
      "grid": false,
      "domainColor": "#222",
      "domainWidth": 1.5,
      "tickColor": "#222",
      "tickWidth": 1,
      "labelFont": "Liberation Sans",
      "labelFontSize": 17,
      "labelColor": "#111",
      "labelOverlap": false,
      "labelFlush": false,
      "labelBound": false,
      "titleFont": "Liberation Sans",
      "titleFontSize": 17,
      "titleFontWeight": "normal",
      "titleColor": "#111"
    },
    "axisY": {"domain": false, "ticks": false, "labels": false, "grid": false},
    "legend": {
      "orient": "none",
      "legendX": 781,
      "legendY": 881,
      "padding": 12,
      "fillColor": "#ffffff",
      "strokeColor": "#333",
      "titleFont": "Liberation Sans",
      "titleFontSize": 17,
      "titleFontWeight": "normal",
      "titleColor": "#111",
      "titleAnchor": "middle",
      "titlePadding": 16,
      "labelFont": "Liberation Sans",
      "labelFontSize": 17,
      "labelColor": "#111",
      "labelLimit": 300,
      "symbolType": "M-2.4,-0.94H2.4V0.94H-2.4Z",
      "symbolSize": 289,
      "symbolStrokeWidth": 0,
      "symbolOpacity": 1,
      "symbolOffset": 196,
      "labelOffset": -215,
      "rowPadding": 21
    }
  }
}
